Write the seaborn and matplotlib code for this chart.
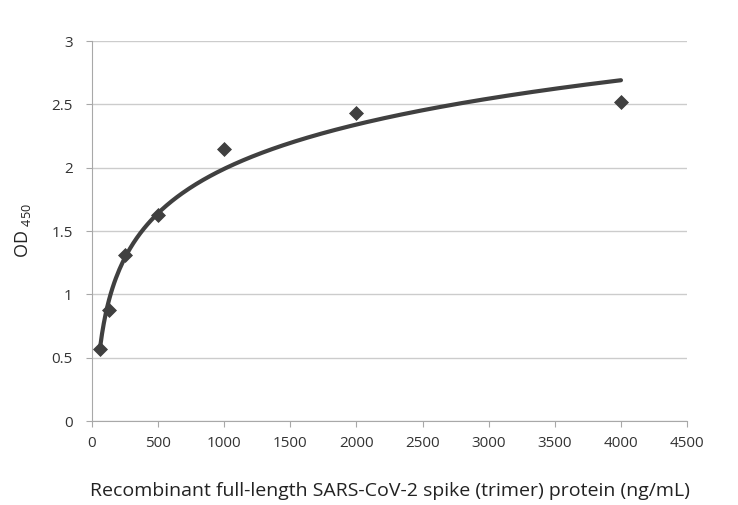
import numpy as np
import pandas as pd
import matplotlib
matplotlib.use("Agg")
import matplotlib.pyplot as plt
import seaborn as sns

# ELISA standard points
conc = [62.5, 125, 250, 500, 1000, 2000, 4000]
od450 = [0.57, 0.88, 1.31, 1.63, 2.15, 2.43, 2.52]

x_ticks = [0, 500, 1000, 1500, 2000, 2500, 3000, 3500, 4000, 4500]
y_ticks = [0, 0.5, 1, 1.5, 2, 2.5, 3]

sns.set_style("white")
plt.rcParams['font.family'] = ['Open Sans', 'DejaVu Sans']

df = pd.DataFrame({"conc": conc, "od": od450})

# logarithmic trendline fitted to the points (like Excel)
a, b = np.polyfit(np.log(df["conc"]), df["od"], 1)
xs = np.linspace(min(conc), max(conc), 300)
trend = pd.DataFrame({"conc": xs, "od": a * np.log(xs) + b})

fig = plt.figure(figsize=(7.38, 5.05), dpi=100)
ax = fig.add_axes([0.1247, 0.1663, 0.8063, 0.7525])

sns.lineplot(data=trend, x="conc", y="od", ax=ax, color="#404040", lw=3)
sns.scatterplot(data=df, x="conc", y="od", ax=ax, marker="D", s=50,
                color="#404040", edgecolor="#404040", zorder=3)

ax.set_xlim(0, 4500)
ax.set_ylim(0, 3)
ax.set_xticks(x_ticks)
ax.set_yticks(y_ticks)
ax.set_yticklabels([f"{t:g}" for t in y_ticks])
ax.yaxis.grid(True, color="#cccccc", lw=1)
ax.set_axisbelow(True)

for s in ["top", "right"]:
    ax.spines[s].set_visible(False)
for s in ["left", "bottom"]:
    ax.spines[s].set_color("#a8a8a8")
ax.tick_params(axis="both", colors="#333333", labelsize=11, length=4,
               direction="out", left=True, bottom=True)
ax.tick_params(axis="both", color="#a8a8a8")
ax.tick_params(axis="x", pad=7)
ax.tick_params(axis="y", pad=10)

ax.set_xlabel("Recombinant full-length SARS-CoV-2 spike (trimer) protein (ng/mL)",
              fontsize=14, color="#222222", labelpad=22)
ax.set_ylabel(r"OD $_{\mathregular{450}}$", fontsize=13, color="#222222", labelpad=13)

fig.savefig("out.png", dpi=100)
